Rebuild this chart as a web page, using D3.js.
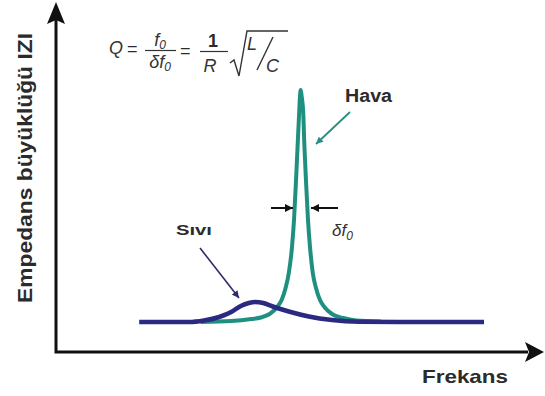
<!DOCTYPE html>
<html>
<head>
<meta charset="utf-8">
<title>Empedans - Frekans</title>
<style>
  body { margin: 0; background: #fff; }
  text { font-family: "Liberation Sans", Arial, sans-serif; fill: #2b2b2b; }
  .lbl { font-weight: bold; }
  .eq { font-style: italic; font-size: 18px; fill: #333; }
</style>
</head>
<body>
<svg width="545" height="396"></svg>
<script src="https://cdnjs.cloudflare.com/ajax/libs/d3/7.8.5/d3.min.js"></script>
<script>
// Hava (air) resonance curve
const havaFrekans = [18.1, 21.9, 24.4, 25.6, 26.7, 27.6, 28.2, 28.7, 29.1, 29.5, 29.75, 30.0, 30.2, 30.4, 30.5, 30.6,
                     30.7, 30.9, 31.05, 31.25, 31.5, 31.75, 32.1, 32.5, 33.0, 33.6, 34.5, 35.9, 37.5, 40.6];
const havaZ = [3.0, 3.1, 3.3, 3.45, 3.8, 4.45, 5.2, 6.4, 7.9, 10.5, 13.2, 17.1, 20.6, 24.0, 25.6, 26.2,
               25.6, 24.0, 20.6, 17.1, 13.2, 10.5, 7.9, 6.4, 5.2, 4.45, 3.8, 3.4, 3.15, 3.05];

// Sıvı (liquid) resonance curve
const siviFrekans = [10.4, 16.6, 18.5, 20.4, 21.9, 23.1, 24.1, 24.9, 25.9, 27.1, 29.1, 31.6, 34.5, 37.9, 42.9, 53.5];
const siviZ = [3.0, 3.0, 3.15, 3.5, 4.0, 4.6, 4.9, 5.0, 4.9, 4.55, 4.05, 3.55, 3.2, 3.03, 3.0, 3.0];

const xLabel = "Frekans";
const yLabel = "Empedans büyüklüğü IZI";

const svg = d3.select("svg");
const x = d3.scaleLinear().domain([0, 61]).range([56, 544]);
const y = d3.scaleLinear().domain([0, 35]).range([352, 2]);

const line = d3.line()
  .x(d => x(d[0]))
  .y(d => y(d[1]))
  .curve(d3.curveMonotoneX);

// arrow markers
const defs = svg.append("defs");
function marker(id, color, w, h) {
  defs.append("marker")
    .attr("id", id)
    .attr("viewBox", "0 0 10 10")
    .attr("refX", 10).attr("refY", 5)
    .attr("markerUnits", "userSpaceOnUse")
    .attr("markerWidth", w).attr("markerHeight", h)
    .attr("orient", "auto")
    .append("path")
    .attr("d", "M0,0 L10,5 L0,10 Z")
    .attr("fill", color);
}
marker("blk", "#111", 9, 8);
marker("teal", "#2a8f80", 8, 7);
marker("navy", "#2e2b6e", 8, 7);

// curves: air first, liquid on top
svg.append("path")
  .datum(d3.zip(havaFrekans, havaZ))
  .attr("d", line)
  .attr("fill", "none")
  .attr("stroke", "#1f9080")
  .attr("stroke-width", 4)
  .attr("stroke-linejoin", "round");

svg.append("path")
  .datum(d3.zip(siviFrekans, siviZ))
  .attr("d", line)
  .attr("fill", "none")
  .attr("stroke", "#2a2a80")
  .attr("stroke-width", 4.5)
  .attr("stroke-linejoin", "round");

// axes
const x0 = x.range()[0], x1 = x.range()[1];
const y0 = y.range()[0], y1 = y.range()[1];
svg.append("path")
  .attr("d", `M${x0},${y1 + 18} L${x0},${y0} L${x1 - 16},${y0}`)
  .attr("fill", "none").attr("stroke", "#111").attr("stroke-width", 3);
svg.append("path")
  .attr("d", `M${x0},${y1} L${x0 + 9},${y1 + 22} L${x0},${y1 + 18} L${x0 - 9},${y1 + 22} Z`)
  .attr("fill", "#111");
svg.append("path")
  .attr("d", `M${x1},${y0} L${x1 - 19},${y0 - 10} L${x1 - 15},${y0} L${x1 - 19},${y0 + 10} Z`)
  .attr("fill", "#111");

// axis labels
svg.append("text").attr("class", "lbl")
  .attr("x", 422).attr("y", 383)
  .attr("font-size", 19)
  .attr("textLength", 86).attr("lengthAdjust", "spacingAndGlyphs")
  .text(xLabel);

svg.append("text").attr("class", "lbl")
  .attr("transform", "translate(32,168) rotate(-90)")
  .attr("text-anchor", "middle")
  .attr("font-size", 21)
  .attr("textLength", 270).attr("lengthAdjust", "spacingAndGlyphs")
  .text(yLabel);

// curve labels + pointer arrows
svg.append("text").attr("class", "lbl")
  .attr("x", 345).attr("y", 102).attr("font-size", 18)
  .attr("textLength", 47).attr("lengthAdjust", "spacingAndGlyphs")
  .text("Hava");
svg.append("line")
  .attr("x1", 350).attr("y1", 112).attr("x2", 316).attr("y2", 144)
  .attr("stroke", "#2a8f80").attr("stroke-width", 1.8)
  .attr("marker-end", "url(#teal)");

svg.append("text").attr("class", "lbl")
  .attr("x", 176).attr("y", 235).attr("font-size", 15)
  .attr("textLength", 36).attr("lengthAdjust", "spacingAndGlyphs")
  .text("Sıvı");
svg.append("line")
  .attr("x1", 200).attr("y1", 248).attr("x2", 239).attr("y2", 298)
  .attr("stroke", "#2e2b6e").attr("stroke-width", 1.6)
  .attr("marker-end", "url(#navy)");

// bandwidth arrows
const yd = y(14.4);
svg.append("line")
  .attr("x1", 271).attr("y1", yd).attr("x2", x(29.75) - 1).attr("y2", yd)
  .attr("stroke", "#111").attr("stroke-width", 2)
  .attr("marker-end", "url(#blk)");
svg.append("line")
  .attr("x1", 338).attr("y1", yd).attr("x2", x(31.5) + 3).attr("y2", yd)
  .attr("stroke", "#111").attr("stroke-width", 2)
  .attr("marker-end", "url(#blk)");
const df = svg.append("text").attr("class", "eq")
  .attr("x", 332).attr("y", 236).style("font-size", "17px");
df.append("tspan").text("δf");
df.append("tspan").style("font-size", "12px").attr("dy", 4).text("0");

// formula Q = f0/δf0 = 1/R √(L/C)
const eq = svg.append("g");
eq.append("text").attr("class", "eq").attr("x", 109).attr("y", 54).text("Q");
eq.append("text").attr("x", 127).attr("y", 55).attr("font-size", 18).attr("fill", "#333").text("=");
const num = eq.append("text").attr("class", "eq").attr("x", 160).attr("y", 46).attr("text-anchor", "middle");
num.append("tspan").text("f");
num.append("tspan").style("font-size", "12px").attr("dy", 3).text("0");
eq.append("line").attr("x1", 145).attr("x2", 176).attr("y1", 50.5).attr("y2", 50.5)
  .attr("stroke", "#333").attr("stroke-width", 1.2);
const den = eq.append("text").attr("class", "eq").attr("x", 160).attr("y", 68).attr("text-anchor", "middle");
den.append("tspan").text("δf");
den.append("tspan").style("font-size", "12px").attr("dy", 3).text("0");
eq.append("text").attr("x", 180).attr("y", 57).attr("font-size", 18).attr("fill", "#333").text("=");
eq.append("text").attr("x", 213).attr("y", 47).attr("font-size", 18).attr("font-weight", "bold")
  .attr("fill", "#333").attr("text-anchor", "middle").text("1");
eq.append("line").attr("x1", 200).attr("x2", 228).attr("y1", 51.5).attr("y2", 51.5)
  .attr("stroke", "#333").attr("stroke-width", 1.2);
eq.append("text").attr("class", "eq").attr("x", 210).attr("y", 72).attr("text-anchor", "middle").text("R");
eq.append("path")
  .attr("d", "M230,63 L234,60 L239,76 L247,31 L288,31")
  .attr("fill", "none").attr("stroke", "#333").attr("stroke-width", 1.4);
eq.append("text").attr("class", "eq").attr("x", 247).attr("y", 50).text("L");
eq.append("line").attr("x1", 257).attr("y1", 70).attr("x2", 273).attr("y2", 37)
  .attr("stroke", "#333").attr("stroke-width", 1.4);
eq.append("text").attr("class", "eq").attr("x", 266).attr("y", 72).text("C");
</script>
</body>
</html>
